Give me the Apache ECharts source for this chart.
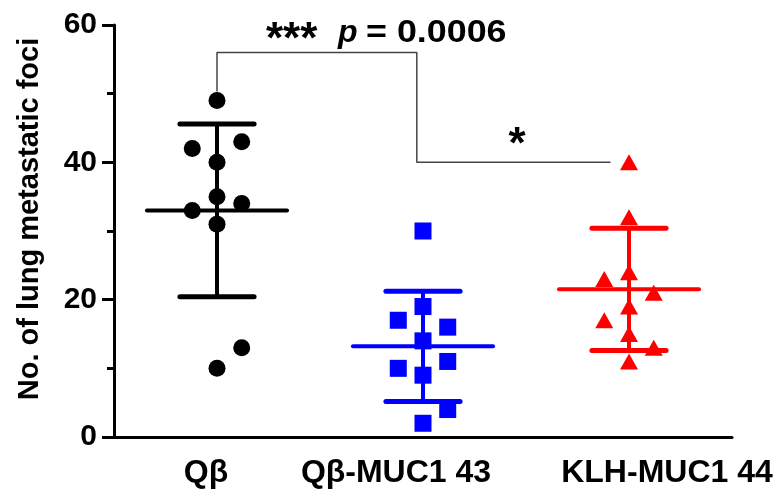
<!DOCTYPE html>
<html>
<head>
<meta charset="utf-8">
<script src="https://cdn.jsdelivr.net/npm/echarts@6/dist/echarts.min.js"></script>
<style>
  html, body { margin: 0; padding: 0; background: #fff; }
  #chart { width: 776px; height: 497px; }
</style>
</head>
<body>
<div id="chart"></div>
<script>
// 分组与数据
var groups = ['Qβ', 'Qβ-MUC1 43', 'KLH-MUC1 44'];
var qbValues = [49, 43, 42, 40, 35, 34, 33, 31, 13, 10];
var qbJitter = [0, 1, -1, 0, 0, 1, -1, 0, 1, 0];
var qbMucValues = [30, 19, 17, 16, 14, 11, 10, 9, 4, 2];
var qbMucJitter = [0, 0, -1, 1, 0, 1, -1, 0, 1, 0];
var klhValues = [40, 32, 24, 23, 21, 19, 17, 15, 13, 11];
var klhJitter = [0, 0, 0, -1, 1, 0, -1, 0, 1, 0];
var yTicks = [0, 20, 40, 60];
// 显著性标注
var bracketTop = 56;
var bracketLow = 40;
var qbTopEnd = 50.3;

var font = 'Liberation Sans, Arial, sans-serif';
var colors = ['#000000', '#0000ff', '#ff0000'];
var symbols = ['circle', 'rect', 'triangle'];

function makePoints(g, values, jitter) {
    return values.map(function (v, i) {
        return [g + jitter[i] * 0.12, v];
    });
}

function meanSd(values) {
    var m = values.reduce(function (a, b) { return a + b; }, 0) / values.length;
    var s = 0;
    values.forEach(function (v) { s += (v - m) * (v - m); });
    return [m, Math.sqrt(s / (values.length - 1))];
}

var allValues = [qbValues, qbMucValues, klhValues];
var allJitter = [qbJitter, qbMucJitter, klhJitter];
var stats = allValues.map(function (vals, g) {
    var ms = meanSd(vals);
    return [g, ms[0], ms[1]];
});

var myChart = echarts.init(document.getElementById('chart'));

var series = [];

// 均值 ± SD
series.push({
    type: 'custom',
    xAxisIndex: 1,
    yAxisIndex: 0,
    z: 2,
    data: stats,
    renderItem: function (params, api) {
        var g = api.value(0), m = api.value(1), sd = api.value(2);
        var c = colors[g];
        var ml = api.coord([g - 0.34, m]);
        var mr = api.coord([g + 0.34, m]);
        var top = api.coord([g, m + sd]);
        var bot = api.coord([g, m - sd]);
        var capL = api.coord([g - 0.18, 0])[0];
        var capR = api.coord([g + 0.18, 0])[0];
        var st = { stroke: c, lineWidth: 4, lineCap: 'round' };
        var capSt = { stroke: c, lineWidth: 5, lineCap: 'round' };
        return {
            type: 'group',
            children: [
                { type: 'line', shape: { x1: ml[0], y1: ml[1], x2: mr[0], y2: mr[1] }, style: st },
                { type: 'line', shape: { x1: top[0], y1: top[1], x2: bot[0], y2: bot[1] }, style: st },
                { type: 'line', shape: { x1: capL, y1: top[1], x2: capR, y2: top[1] }, style: capSt },
                { type: 'line', shape: { x1: capL, y1: bot[1], x2: capR, y2: bot[1] }, style: capSt }
            ]
        };
    }
});

allValues.forEach(function (vals, g) {
    series.push({
        name: groups[g],
        type: 'scatter',
        xAxisIndex: 1,
        yAxisIndex: 0,
        z: 3,
        symbol: symbols[g],
        symbolSize: g == 2 ? [18, 16] : 17,
        itemStyle: { color: colors[g], opacity: 1 },
        data: makePoints(g, vals, allJitter[g])
    });
});

// 括号线
series.push({
    type: 'line',
    xAxisIndex: 1,
    yAxisIndex: 0,
    z: 1,
    symbol: 'none',
    lineStyle: { color: '#444', width: 1.5 },
    data: [[0, qbTopEnd], [0, bracketTop], [0.97, bracketTop], [0.97, bracketLow], [1.91, bracketLow]]
});

var labelStyle = { fontSize: 32, fontWeight: 'bold', fontFamily: font, color: '#000' };

var option = {
    animation: false,
    grid: { left: 114, right: 44, top: 25, bottom: 60 },
    xAxis: [{
        type: 'category',
        data: groups,
        boundaryGap: true,
        axisLine: { lineStyle: { color: '#000', width: 3 } },
        axisTick: { alignWithLabel: true, length: 13, lineStyle: { color: '#000', width: 3 } },
        axisLabel: {
            interval: 0,
            margin: 20,
            color: '#000',
            fontSize: 32,
            fontWeight: 'bold',
            fontFamily: font,
            formatter: function (v, i) {
                return '{g' + i + '|' + v + '}';
            },
            rich: {
                // 原图标签并非正对刻度
                g0: Object.assign({ padding: [0, 22, 0, 0] }, labelStyle),
                g1: Object.assign({ padding: [0, 54, 0, 0] }, labelStyle),
                g2: Object.assign({ padding: [0, 0, 0, 76] }, labelStyle)
            }
        }
    }, {
        type: 'value',
        min: -0.5,
        max: 2.5,
        show: false
    }],
    yAxis: {
        type: 'value',
        min: yTicks[0],
        max: yTicks[yTicks.length - 1],
        interval: 20,
        splitLine: { show: false },
        axisLine: { show: true, onZero: false, lineStyle: { color: '#000', width: 3 } },
        axisTick: { show: true, length: 12, lineStyle: { color: '#000', width: 3 } },
        minorTick: { show: true, splitNumber: 2, length: 7, lineStyle: { color: '#000', width: 3 } },
        axisLabel: { color: '#000', fontSize: 30, fontWeight: 'bold', fontFamily: font, margin: 17 }
    },
    graphic: [{
        type: 'text',
        x: 30,
        y: 219,
        rotation: Math.PI / 2,
        style: {
            text: 'No. of lung metastatic foci',
            font: 'bold 29px ' + font,
            fill: '#000',
            align: 'center',
            verticalAlign: 'middle'
        }
    }, {
        type: 'text',
        x: 266,
        y: 41,
        style: {
            text: '***',
            font: 'bold 44px ' + font,
            fill: '#000',
            align: 'left',
            verticalAlign: 'middle'
        }
    }, {
        type: 'text',
        x: 338,
        y: 33,
        style: {
            text: 'p',
            font: 'italic bold 32px ' + font,
            fill: '#000',
            align: 'left',
            verticalAlign: 'middle'
        }
    }, {
        type: 'text',
        x: 366,
        y: 33,
        scaleX: 1.12,
        style: {
            text: '= 0.0006',
            font: 'bold 32px ' + font,
            fill: '#000',
            align: 'left',
            verticalAlign: 'middle'
        }
    }, {
        type: 'text',
        x: 517,
        y: 146,
        style: {
            text: '*',
            font: 'bold 44px ' + font,
            fill: '#000',
            align: 'center',
            verticalAlign: 'middle'
        }
    }],
    series: series
};

myChart.setOption(option);
</script>
</body>
</html>
